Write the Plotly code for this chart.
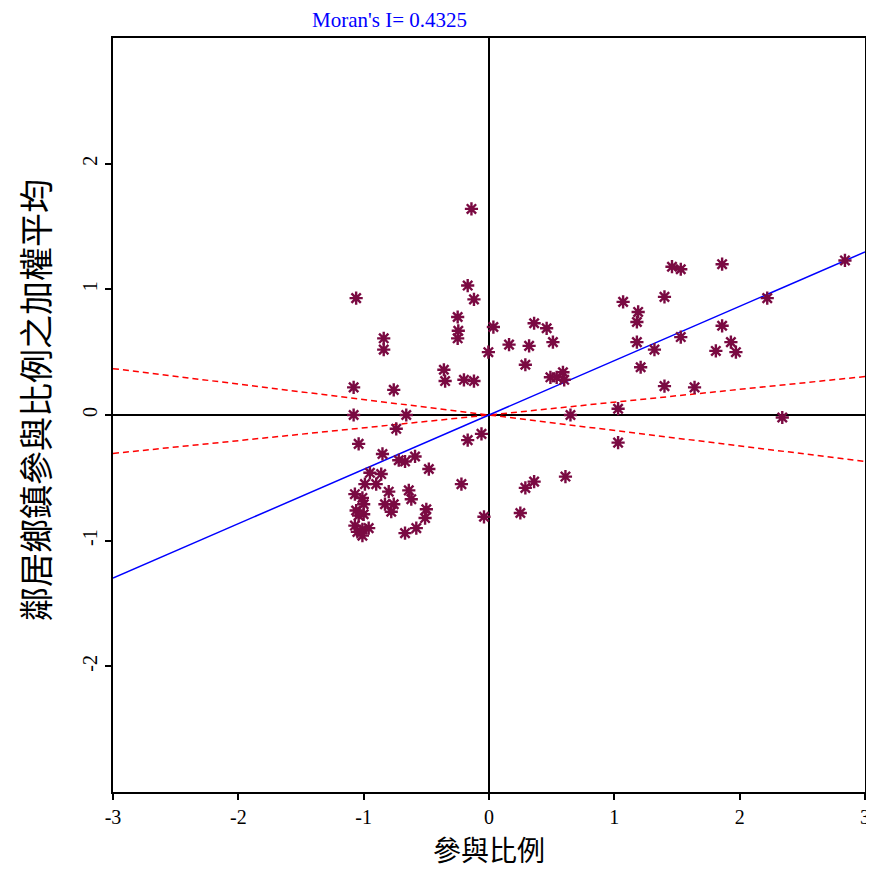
import plotly.graph_objects as go

moran_i = 0.4325
slope_a = 0.102
slope_b = -0.123

x_vals = [-0.14, -0.17, -0.12, -1.06, -0.25, -0.245, -0.25, 0.035, -0.84, -0.84,
          -0.005, 0.16, 0.29, -0.36, -0.35, -0.20, -0.12, -1.08, -0.76, -1.08,
          -0.66, -0.74, -1.04, -0.17, -0.06, -0.85, -0.72, -0.67, -0.59, -0.48,
          -0.95, -0.86, -0.99, -0.90, -0.22, -1.07, -1.01, -0.80, -0.64, -0.62,
          -1.00, -0.83, -0.76, -0.78, -1.06, -0.50, -0.51, -1.00, -1.04, -1.07,
          -1.01, -0.96, -1.05, -1.01, -0.58, -0.67, -0.04, 0.29, 0.36, 0.61,
          0.25, 0.65, 1.03, 1.03, 0.32, 0.36, 0.46, 0.51, 0.49, 0.54,
          0.59, 0.60, 1.07, 1.19, 1.18, 1.18, 1.32, 1.21, 1.40, 1.64,
          1.40, 1.46, 1.53, 1.86, 1.53, 1.86, 1.81, 1.93, 1.97, 2.22,
          2.84, 2.34]
y_vals = [1.64, 1.03, 0.92, 0.93, 0.78, 0.67, 0.61, 0.70, 0.61, 0.52,
          0.50, 0.56, 0.40, 0.36, 0.27, 0.28, 0.27, 0.22, 0.20, 0.0,
          0.0, -0.11, -0.23, -0.20, -0.15, -0.31, -0.36, -0.37, -0.33, -0.43,
          -0.46, -0.47, -0.55, -0.55, -0.55, -0.63, -0.66, -0.61, -0.60, -0.67,
          -0.71, -0.71, -0.71, -0.77, -0.76, -0.75, -0.82, -0.79, -0.80, -0.88,
          -0.91, -0.90, -0.93, -0.96, -0.90, -0.94, -0.81, -0.58, -0.53, -0.49,
          -0.78, 0.0, 0.05, -0.22, 0.55, 0.73, 0.69, 0.58, 0.30, 0.30,
          0.34, 0.28, 0.90, 0.82, 0.74, 0.58, 0.52, 0.38, 0.23, 0.22,
          0.94, 1.18, 1.16, 1.20, 0.62, 0.71, 0.51, 0.58, 0.50, 0.93,
          1.23, -0.02]

x_line = [-3, 3]
x_tick_vals = [-3, -2, -1, 0, 1, 2, 3]
x_tick_text = ["-3", "-2", "-1", "0", "1", "2", "3"]
y_tick_vals = [-2, -1, 0, 1, 2]
y_tick_text = ["-2", "-1", "0", "1", "2"]

x_title = "參與比例"
y_title = "鄰居鄉鎮參與比例之加權平均"

fig = go.Figure()
fig.add_trace(go.Scatter(x=x_line, y=[slope_a * v for v in x_line], mode="lines",
                         line=dict(color="red", width=1.5, dash="6px,4px"), hoverinfo="skip"))
fig.add_trace(go.Scatter(x=x_line, y=[slope_b * v for v in x_line], mode="lines",
                         line=dict(color="red", width=1.5, dash="6px,4px"), hoverinfo="skip"))
fig.add_trace(go.Scatter(x=x_line, y=[moran_i * v for v in x_line], mode="lines",
                         line=dict(color="blue", width=1.5)))
fig.add_trace(go.Scatter(x=x_vals, y=y_vals, mode="markers",
                         marker=dict(symbol="asterisk-open", size=11, color="#7a0a42",
                                     line=dict(color="#7a0a42", width=2.4))))

axis_common = dict(range=[-3, 3], showgrid=False, zeroline=True, zerolinecolor="black",
                   zerolinewidth=1.5, showline=True, mirror=True, linecolor="black",
                   linewidth=2, ticks="outside", ticklen=6, tickcolor="black", tickwidth=1.5,
                   automargin=False,
                   tickfont=dict(family="Liberation Serif", size=20, color="black"))

fig.update_layout(
    width=866, height=861,
    margin=dict(l=105, r=9, t=30, b=77, autoexpand=False),
    plot_bgcolor="white", paper_bgcolor="white",
    showlegend=False,
    xaxis=dict(**axis_common, tickvals=x_tick_vals, ticktext=x_tick_text),
    yaxis=dict(**axis_common, tickvals=y_tick_vals, ticktext=y_tick_text, tickangle=-90),
    annotations=[
        dict(text="Moran's I= %.4f" % moran_i, xref="paper", yref="paper",
             x=0.368, y=1.0, yshift=18, yanchor="middle", showarrow=False,
             font=dict(family="Liberation Serif", size=21, color="blue")),
        dict(text=x_title, xref="paper", yref="paper", x=0.5, y=0.0, yshift=-57,
             yanchor="middle", showarrow=False, borderpad=0,
             font=dict(family="Noto Sans CJK TC", size=28, color="black")),
        dict(text=y_title, xref="paper", yref="paper", x=0.0, y=0.52, xshift=-78,
             xanchor="center", textangle=-90, showarrow=False,
             font=dict(family="Noto Sans CJK TC", size=34, color="black")),
    ],
)

fig.write_html("out.html")
